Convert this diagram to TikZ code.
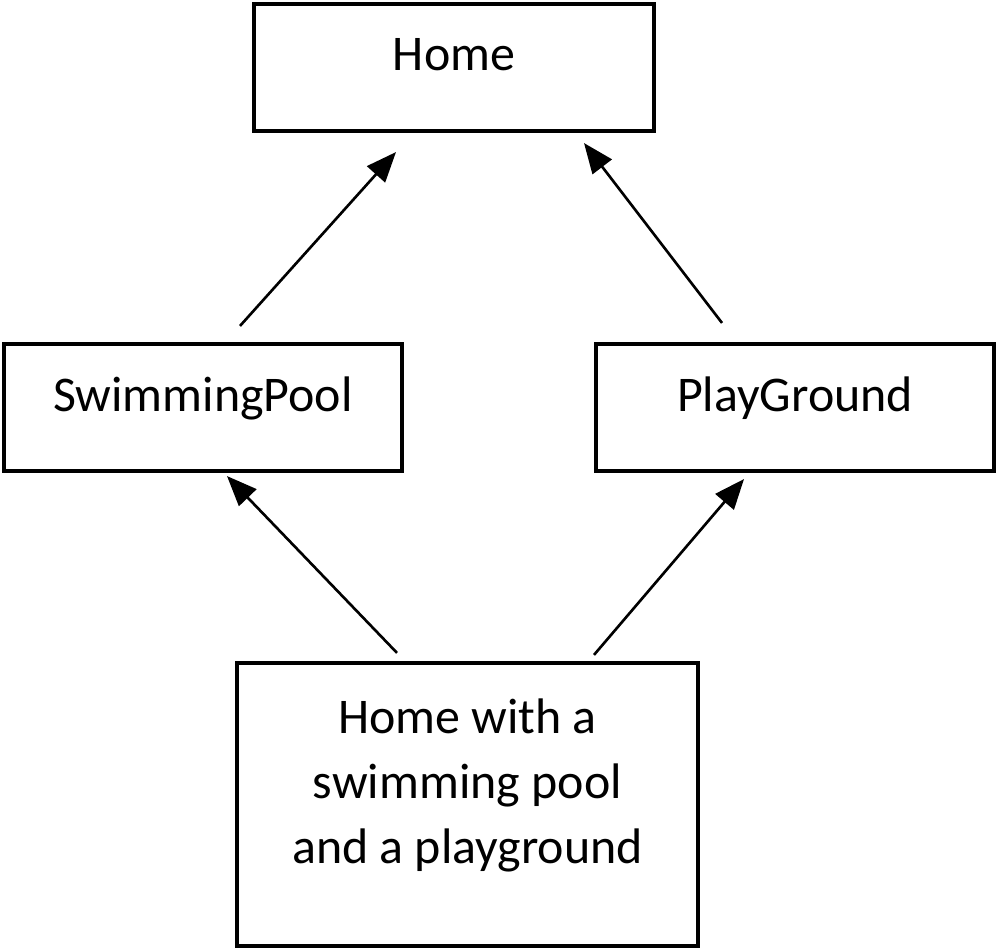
\documentclass[tikz,border=0pt]{standalone}
\usepackage{fontspec}
\setmainfont{Carlito}
\usetikzlibrary{arrows.meta}
\newcommand{\inherit}[4]{\draw[->, line width=0.75pt] ([shift={#2}]#1) -- ([shift={#4}]#3)}
\tikzset{
	epais/.style={line width=1.15pt},
	classe/.style={draw, epais, rectangle, inner sep=0pt, font=\fontsize{14.2}{18.4}\selectfont},
	>={Triangle[length=0.3cm, width=0.24cm]}
}

\begin{document}
\begin{tikzpicture}[x=0.01cm, y=-0.01cm]
	\useasboundingbox (0,0) rectangle (1000,952);
%The classes
	\node[classe, minimum width=4cm, minimum height=1.27cm, text height=0.35cm, text depth=0.28cm] (home) at (454,67.5) {Home};
	\node[classe, minimum width=3.98cm, minimum height=1.27cm, text height=0.35cm, text depth=0.28cm] (pool) at (203,407.5) {SwimmingPool};
	\node[classe, minimum width=3.98cm, minimum height=1.27cm, text height=0.35cm, text depth=0.28cm] (play) at (795,407.5) {PlayGround};
	\node[classe, minimum width=4.61cm, minimum height=2.83cm, align=center, text height=1.46cm, text depth=0.29cm] (both) at (467.5,804.5) {Home with a\\swimming pool\\and a playground};
%The arrows
	\inherit{pool.north}{(37,-16)}{home.south}{(-58,19)};
	\inherit{play.north}{(-73,-19)}{home.south}{(130,10)};
	\inherit{both.north}{(-70.5,-8)}{pool.south}{(24,3)};
	\inherit{both.north}{(126.5,-6)}{play.south}{(-51,6)};
\end{tikzpicture}
\end{document}
